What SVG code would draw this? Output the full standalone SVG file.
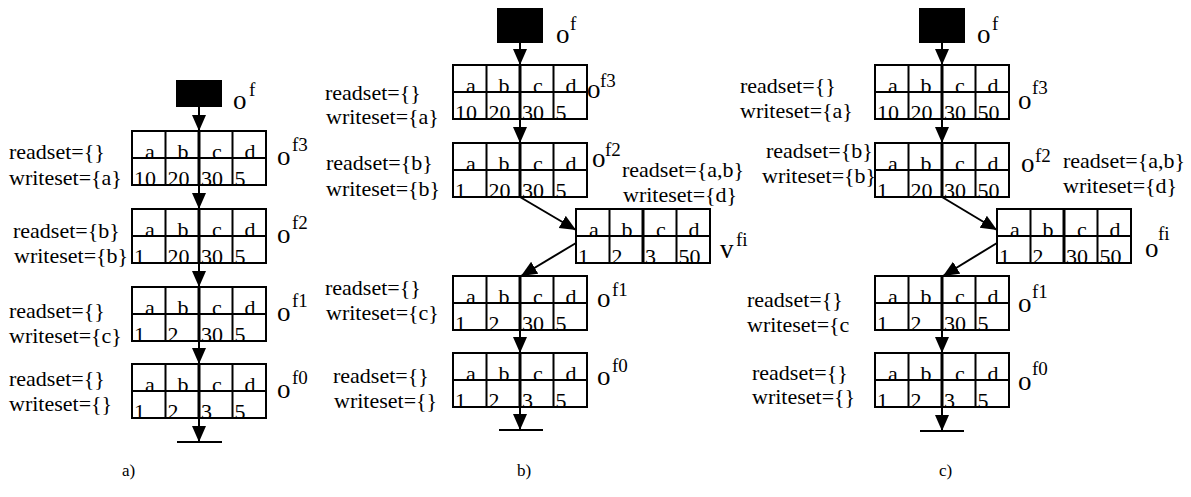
<svg xmlns="http://www.w3.org/2000/svg" width="1191" height="497" viewBox="0 0 1191 497">
<style>
text{font-family:"Liberation Serif","Times New Roman",serif;fill:#000}
.t{font-size:22px}
.c{font-size:22px}
.h{font-size:22px;text-anchor:middle}
.o{font-size:27px}
.s{font-size:19px}
.cap{font-size:17px}
.tb{fill:#fff;stroke:#000;stroke-width:2}
.ln{stroke:#000;stroke-width:2;fill:none}
.mid{stroke:#000;stroke-width:3;fill:none}
.cn{stroke:#000;stroke-width:2;fill:none;marker-end:url(#ah)}
.gr{stroke:#000;stroke-width:2}
</style>
<defs>
<marker id="ah" markerUnits="userSpaceOnUse" markerWidth="17" markerHeight="15" refX="16" refY="7" orient="auto"><path d="M0,0 L16,7 L0,14 z" fill="#000"/></marker>
</defs>
<rect width="1191" height="497" fill="#fff"/>

<!-- Panel a -->
<g id="a-of"><rect x="176" y="80" width="46" height="27" fill="#000"/><text class="o" x="233" y="109">o</text><text class="s" x="249" y="96">f</text></g>
<g id="a-f3"><rect class="tb" x="132" y="131" width="134" height="54"/><path class="ln" d="M132,158H266M165.5,131V185M232.5,131V185"/><path class="mid" d="M199,131V185"/>
<text class="h" x="150" y="159">a</text><text class="h" x="183" y="159">b</text><text class="h" x="217" y="159">c</text><text class="h" x="250" y="159">d</text>
<text class="c" x="134" y="186">10</text><text class="c" x="167.5" y="186">20</text><text class="c" x="201" y="186">30</text><text class="c" x="234.5" y="186">5</text>
<text class="t" x="9" y="159">readset={}</text><text class="t" x="9" y="185">writeset={a}</text><text class="o" x="277" y="165">o</text><text class="s" x="292" y="151">f3</text></g>
<g id="a-f2"><rect class="tb" x="132" y="209" width="134" height="54"/><path class="ln" d="M132,236H266M165.5,209V263M232.5,209V263"/><path class="mid" d="M199,209V263"/>
<text class="h" x="150" y="237">a</text><text class="h" x="183" y="237">b</text><text class="h" x="217" y="237">c</text><text class="h" x="250" y="237">d</text>
<text class="c" x="134" y="264">1</text><text class="c" x="167.5" y="264">20</text><text class="c" x="201" y="264">30</text><text class="c" x="234.5" y="264">5</text>
<text class="t" x="13" y="238">readset={b}</text><text class="t" x="14" y="263">writeset={b}</text><text class="o" x="277" y="243">o</text><text class="s" x="292" y="229">f2</text></g>
<g id="a-f1"><rect class="tb" x="132" y="287" width="134" height="54"/><path class="ln" d="M132,314H266M165.5,287V341M232.5,287V341"/><path class="mid" d="M199,287V341"/>
<text class="h" x="150" y="315">a</text><text class="h" x="183" y="315">b</text><text class="h" x="217" y="315">c</text><text class="h" x="250" y="315">d</text>
<text class="c" x="134" y="342">1</text><text class="c" x="167.5" y="342">2</text><text class="c" x="201" y="342">30</text><text class="c" x="234.5" y="342">5</text>
<text class="t" x="9" y="318">readset={}</text><text class="t" x="9" y="343">writeset={c}</text><text class="o" x="277" y="321">o</text><text class="s" x="292" y="307">f1</text></g>
<g id="a-f0"><rect class="tb" x="132" y="364" width="134" height="54"/><path class="ln" d="M132,391H266M165.5,364V418M232.5,364V418"/><path class="mid" d="M199,364V418"/>
<text class="h" x="150" y="392">a</text><text class="h" x="183" y="392">b</text><text class="h" x="217" y="392">c</text><text class="h" x="250" y="392">d</text>
<text class="c" x="134" y="419">1</text><text class="c" x="167.5" y="419">2</text><text class="c" x="201" y="419">3</text><text class="c" x="234.5" y="419">5</text>
<text class="t" x="9" y="386">readset={}</text><text class="t" x="9" y="411">writeset={}</text><text class="o" x="277" y="398">o</text><text class="s" x="292" y="384">f0</text></g>
<g id="a-ground"><line class="gr" x1="177" y1="442" x2="222" y2="442"/></g>

<!-- Panel b -->
<g id="b-of"><rect x="497" y="8" width="46" height="35" fill="#000"/><text class="o" x="556" y="43">o</text><text class="s" x="570" y="30">f</text></g>
<g id="b-f3"><rect class="tb" x="453" y="65" width="134" height="54"/><path class="ln" d="M453,92H587M486.5,65V119M553.5,65V119"/><path class="mid" d="M520,65V119"/>
<text class="h" x="471" y="93">a</text><text class="h" x="504" y="93">b</text><text class="h" x="538" y="93">c</text><text class="h" x="571" y="93">d</text>
<text class="c" x="455" y="120">10</text><text class="c" x="488.5" y="120">20</text><text class="c" x="522" y="120">30</text><text class="c" x="555.5" y="120">5</text>
<text class="t" x="325" y="100">readset={}</text><text class="t" x="326" y="124">writeset={a}</text><text class="o" x="587" y="98">o</text><text class="s" x="600" y="87">f3</text></g>
<g id="b-f2"><rect class="tb" x="453" y="143" width="134" height="54"/><path class="ln" d="M453,170H587M486.5,143V197M553.5,143V197"/><path class="mid" d="M520,143V197"/>
<text class="h" x="471" y="171">a</text><text class="h" x="504" y="171">b</text><text class="h" x="538" y="171">c</text><text class="h" x="571" y="171">d</text>
<text class="c" x="455" y="198">1</text><text class="c" x="488.5" y="198">20</text><text class="c" x="522" y="198">30</text><text class="c" x="555.5" y="198">5</text>
<text class="t" x="326" y="170">readset={b}</text><text class="t" x="326" y="196">writeset={b}</text><text class="o" x="592" y="167">o</text><text class="s" x="605" y="156">f2</text></g>
<g id="b-vfi"><rect class="tb" x="576" y="209" width="134" height="54"/><path class="ln" d="M576,236H710M609.5,209V263M676.5,209V263"/><path class="mid" d="M643,209V263"/>
<text class="h" x="594" y="237">a</text><text class="h" x="627" y="237">b</text><text class="h" x="661" y="237">c</text><text class="h" x="694" y="237">d</text>
<text class="c" x="578" y="264">1</text><text class="c" x="611.5" y="264">2</text><text class="c" x="645" y="264">3</text><text class="c" x="678.5" y="264">50</text>
<text class="t" x="622" y="177">readset={a,b}</text><text class="t" x="623" y="202">writeset={d}</text><text class="o" x="720" y="258">v</text><text class="s" x="736" y="246">fi</text></g>
<g id="b-f1"><rect class="tb" x="453" y="276" width="134" height="54"/><path class="ln" d="M453,303H587M486.5,276V330M553.5,276V330"/><path class="mid" d="M520,276V330"/>
<text class="h" x="471" y="304">a</text><text class="h" x="504" y="304">b</text><text class="h" x="538" y="304">c</text><text class="h" x="571" y="304">d</text>
<text class="c" x="455" y="331">1</text><text class="c" x="488.5" y="331">2</text><text class="c" x="522" y="331">30</text><text class="c" x="555.5" y="331">5</text>
<text class="t" x="325" y="295">readset={}</text><text class="t" x="326" y="320">writeset={c}</text><text class="o" x="597" y="307">o</text><text class="s" x="612" y="296">f1</text></g>
<g id="b-f0"><rect class="tb" x="453" y="353" width="134" height="54"/><path class="ln" d="M453,380H587M486.5,353V407M553.5,353V407"/><path class="mid" d="M520,353V407"/>
<text class="h" x="471" y="381">a</text><text class="h" x="504" y="381">b</text><text class="h" x="538" y="381">c</text><text class="h" x="571" y="381">d</text>
<text class="c" x="455" y="408">1</text><text class="c" x="488.5" y="408">2</text><text class="c" x="522" y="408">3</text><text class="c" x="555.5" y="408">5</text>
<text class="t" x="333" y="383">readset={}</text><text class="t" x="334" y="408">writeset={}</text><text class="o" x="597" y="385">o</text><text class="s" x="612" y="372">f0</text></g>
<g id="b-ground"><line class="gr" x1="499" y1="430" x2="543" y2="430"/></g>

<!-- Panel c -->
<g id="c-of"><rect x="919" y="8" width="46" height="35" fill="#000"/><text class="o" x="977" y="43">o</text><text class="s" x="992" y="30">f</text></g>
<g id="c-f3"><rect class="tb" x="875" y="65" width="134" height="54"/><path class="ln" d="M875,92H1009M908.5,65V119M975.5,65V119"/><path class="mid" d="M942,65V119"/>
<text class="h" x="893" y="93">a</text><text class="h" x="926" y="93">b</text><text class="h" x="960" y="93">c</text><text class="h" x="993" y="93">d</text>
<text class="c" x="877" y="120">10</text><text class="c" x="910.5" y="120">20</text><text class="c" x="944" y="120">30</text><text class="c" x="977.5" y="120">50</text>
<text class="t" x="740" y="93">readset={}</text><text class="t" x="740" y="118">writeset={a}</text><text class="o" x="1018" y="109">o</text><text class="s" x="1032" y="94">f3</text></g>
<g id="c-f2"><rect class="tb" x="875" y="143" width="134" height="54"/><path class="ln" d="M875,170H1009M908.5,143V197M975.5,143V197"/><path class="mid" d="M942,143V197"/>
<text class="h" x="893" y="171">a</text><text class="h" x="926" y="171">b</text><text class="h" x="960" y="171">c</text><text class="h" x="993" y="171">d</text>
<text class="c" x="877" y="198">1</text><text class="c" x="910.5" y="198">20</text><text class="c" x="944" y="198">30</text><text class="c" x="977.5" y="198">50</text>
<text class="t" x="766" y="158">readset={b}</text><text class="t" x="762" y="183">writeset={b}</text><text class="o" x="1021" y="172">o</text><text class="s" x="1035" y="162">f2</text></g>
<g id="c-ofi"><rect class="tb" x="997" y="209" width="134" height="54"/><path class="ln" d="M997,236H1131M1030.5,209V263M1097.5,209V263"/><path class="mid" d="M1064,209V263"/>
<text class="h" x="1015" y="237">a</text><text class="h" x="1048" y="237">b</text><text class="h" x="1082" y="237">c</text><text class="h" x="1115" y="237">d</text>
<text class="c" x="999" y="264">1</text><text class="c" x="1032.5" y="264">2</text><text class="c" x="1066" y="264">30</text><text class="c" x="1099.5" y="264">50</text>
<text class="t" x="1063" y="168">readset={a,b}</text><text class="t" x="1063" y="193">writeset={d}</text><text class="o" x="1145" y="257">o</text><text class="s" x="1158" y="240">fi</text></g>
<g id="c-f1"><rect class="tb" x="875" y="276" width="134" height="54"/><path class="ln" d="M875,303H1009M908.5,276V330M975.5,276V330"/><path class="mid" d="M942,276V330"/>
<text class="h" x="893" y="304">a</text><text class="h" x="926" y="304">b</text><text class="h" x="960" y="304">c</text><text class="h" x="993" y="304">d</text>
<text class="c" x="877" y="331">1</text><text class="c" x="910.5" y="331">2</text><text class="c" x="944" y="331">30</text><text class="c" x="977.5" y="331">5</text>
<text class="t" x="747" y="307">readset={}</text><text class="t" x="747" y="332">writeset={c</text><text class="o" x="1018" y="312">o</text><text class="s" x="1032" y="298">f1</text></g>
<g id="c-f0"><rect class="tb" x="875" y="353" width="134" height="54"/><path class="ln" d="M875,380H1009M908.5,353V407M975.5,353V407"/><path class="mid" d="M942,353V407"/>
<text class="h" x="893" y="381">a</text><text class="h" x="926" y="381">b</text><text class="h" x="960" y="381">c</text><text class="h" x="993" y="381">d</text>
<text class="c" x="877" y="408">1</text><text class="c" x="910.5" y="408">2</text><text class="c" x="944" y="408">3</text><text class="c" x="977.5" y="408">5</text>
<text class="t" x="752" y="380">readset={}</text><text class="t" x="752" y="404">writeset={}</text><text class="o" x="1018" y="390">o</text><text class="s" x="1032" y="375">f0</text></g>
<g id="c-ground"><line class="gr" x1="920" y1="431" x2="964" y2="431"/></g>

<g id="connectors">
<path class="cn" d="M199,107V131"/><path class="cn" d="M199,185V209"/><path class="cn" d="M199,263V287"/><path class="cn" d="M199,341V364"/><path class="cn" d="M199,418V442"/>
<path class="cn" d="M520,43V65"/><path class="cn" d="M520,119V143"/><path class="cn" d="M520,197L576,230"/><path class="cn" d="M576,243L521,276"/><path class="cn" d="M520,330V353"/><path class="cn" d="M520,407V430"/>
<path class="cn" d="M942,43V65"/><path class="cn" d="M942,119V143"/><path class="cn" d="M942,197L997,230"/><path class="cn" d="M997,243L943,276"/><path class="cn" d="M942,330V353"/><path class="cn" d="M942,407V431"/>
</g>

<g id="captions">
<text class="cap" x="122" y="476">a)</text><text class="cap" x="517" y="476">b)</text><text class="cap" x="939" y="476">c)</text>
</g>
</svg>
